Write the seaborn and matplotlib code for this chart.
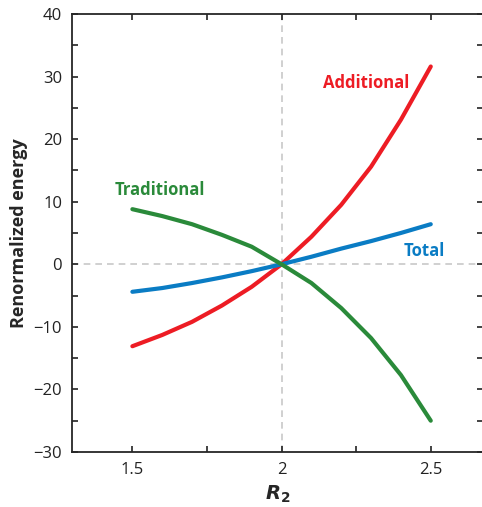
import pandas as pd
import seaborn as sns
import matplotlib.pyplot as plt

# values
r2 = [1.5, 1.6, 1.7, 1.8, 1.9, 2.0, 2.1, 2.2, 2.3, 2.4, 2.5]
additional = [-13.1, -11.3, -9.2, -6.6, -3.6, 0.0, 4.4, 9.5, 15.6, 23.1, 31.6]
total = [-4.4, -3.8, -3.0, -2.1, -1.1, 0.0, 1.2, 2.5, 3.7, 5.0, 6.4]
traditional = [8.8, 7.7, 6.4, 4.7, 2.8, 0.0, -3.0, -7.0, -11.8, -17.7, -25.0]

series = ["Additional", "Total", "Traditional"]
colors = {"Additional": "#ED1C24", "Total": "#0A7CC4", "Traditional": "#2A8A3A"}

df = pd.concat([
    pd.DataFrame({"R2": r2, "energy": additional, "series": "Additional"}),
    pd.DataFrame({"R2": r2, "energy": total, "series": "Total"}),
    pd.DataFrame({"R2": r2, "energy": traditional, "series": "Traditional"}),
])

sns.set_style("ticks")
plt.rcParams['font.family'] = ['Open Sans', 'DejaVu Sans']
plt.rcParams['axes.linewidth'] = 1.3

fig = plt.figure(figsize=(4.82, 5.07), dpi=100)
# right spine sits just past the image edge, as in the reference
ax = fig.add_axes([0.149, 0.1085, 0.853, 0.864])

ax.axvline(2.0, color="#c8c8c8", lw=1.2, ls=(0, (4, 3)), zorder=0)
ax.axhline(0.0, color="#c8c8c8", lw=1.2, ls=(0, (4, 3)), zorder=0)

sns.lineplot(data=df, x="R2", y="energy", hue="series", hue_order=series,
             palette=colors, lw=3, legend=False, ax=ax)

ax.set_xlim(1.297, 2.675)
ax.set_ylim(-30, 40)
ax.set_xticks([1.5, 2.0, 2.5])
ax.set_xticklabels(["1.5", "2", "2.5"])
ax.set_xticks([1.75, 2.25], minor=True)
ax.set_yticks(range(-30, 41, 10))
ax.set_yticklabels(["\u221230", "\u221220", "\u221210", "0", "10", "20", "30", "40"])
ax.set_yticks(range(-25, 40, 10), minor=True)
ax.tick_params(which="both", direction="in", top=True, right=True,
               length=4.3, width=1.2, labelsize=12, pad=7, colors="#222222")

ax.set_xlabel(r"$\boldsymbol{R}_{\mathbf{2}}$", fontsize=14, labelpad=4)
ax.set_ylabel("Renormalized energy", fontsize=13, fontweight="bold", labelpad=4)

ax.text(2.43, 28.2, "Additional", color=colors["Additional"], fontsize=12,
        fontweight="bold", ha="right")
ax.text(2.41, 1.3, "Total", color=colors["Total"], fontsize=12,
        fontweight="bold", ha="left")
ax.text(1.442, 11.0, "Traditional", color=colors["Traditional"], fontsize=12,
        fontweight="bold", ha="left")

fig.savefig("out.png", dpi=100)
